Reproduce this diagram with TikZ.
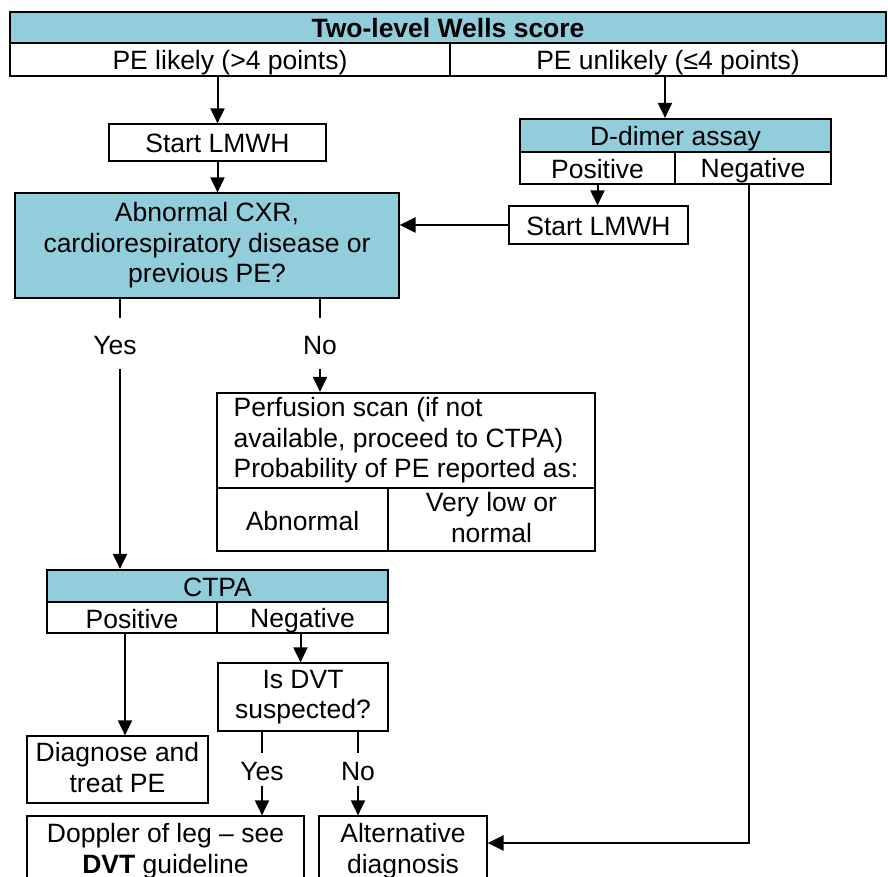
\documentclass[tikz,border=0pt]{standalone}
\usepackage{fontspec}
\setmainfont{Liberation Sans}
\usetikzlibrary{arrows.meta,calc}
\definecolor{aqua}{RGB}{146,205,220}
\begin{document}
\begin{tikzpicture}[x=1pt,y=-1pt,
  every node/.style={font=\fontsize{26.5}{30.5}\selectfont, inner sep=0pt, align=center,
    execute at begin node={\rule[-4pt]{0pt}{29pt}},
    execute at end node={\rule[-4pt]{0pt}{29pt}}},
  tbox/.style={draw, line width=2.2pt, rectangle},
  sbox/.style={draw, line width=1.2pt, rectangle},
  hdr/.style={fill=aqua},
  arr/.style={line width=2pt, -{Triangle[length=15pt,width=14pt]}},
  harr/.style={line width=2.6pt, -{Triangle[length=16pt,width=15pt]}},
  stub/.style={line width=2pt}]
\useasboundingbox (0,0) rectangle (888,877);

% top table
\node[tbox,hdr,minimum width=876pt,minimum height=31pt] (title) at (448,27.5) {\textbf{Two-level Wells score}};
\node[tbox,minimum width=440pt,minimum height=33pt] (likely) at (230,59.5) {PE likely (>4 points)};
\node[tbox,minimum width=436pt,minimum height=33pt] (unlikely) at (668,59.5) {PE unlikely (≤4 points)};

% left branch
\node[sbox,minimum width=217pt,minimum height=37pt] (lmwh1) at (217.5,142.5) {Start LMWH};
\node[sbox,hdr,minimum width=384pt,minimum height=105pt] (cxr) at (207,245.5) {Abnormal CXR,\\cardiorespiratory disease or\\previous PE?};

% D-dimer table
\node[tbox,hdr,minimum width=311pt,minimum height=33pt] (ddimer) at (675.5,135.5) {D-dimer assay};
\node[tbox,minimum width=155pt,minimum height=32pt] (dpos) at (597.5,168) {Positive};
\node[tbox,minimum width=156pt,minimum height=32pt] (dneg) at (753,168) {Negative};
\node[sbox,minimum width=179pt,minimum height=38pt] (lmwh2) at (598.5,225) {Start LMWH};

% yes / no labels
\node[minimum height=51pt] (yes1) at (115,343.5) {Yes};
\node[minimum height=51pt] (no1) at (320,343.5) {No};

% perfusion table
\node[tbox,minimum width=378pt,minimum height=95pt,align=left] (perf) at (406,440.5) {Perfusion scan (if not\\available, proceed to CTPA)\\Probability of PE reported as:};
\node[tbox,minimum width=171pt,minimum height=63pt] (pabn) at (302.5,519.5) {Abnormal};
\node[tbox,minimum width=207pt,minimum height=63pt] (pvl) at (491.5,519.5) {Very low or\\normal};

% CTPA table
\node[tbox,hdr,minimum width=341pt,minimum height=32pt] (ctpa) at (217.5,586) {CTPA};
\node[tbox,minimum width=170pt,minimum height=31pt] (cpos) at (132,617.5) {Positive};
\node[tbox,minimum width=171pt,minimum height=31pt] (cneg) at (302.5,617.5) {Negative};

% lower boxes
\node[sbox,minimum width=181pt,minimum height=67pt] (diag) at (117.5,769.5) {Diagnose and\\treat PE};
\node[sbox,minimum width=170pt,minimum height=68pt] (dvt) at (303,697) {Is DVT\\suspected?};
\node[minimum height=33pt] (yes2) at (262,769.5) {Yes};
\node[minimum height=33pt] (no2) at (358,769.5) {No};
\node[sbox,minimum width=277pt,minimum height=70pt] (doppler) at (165.5,851) {Doppler of leg – see\\\textbf{DVT} guideline};
\node[sbox,minimum width=168pt,minimum height=70pt] (alt) at (403,851) {Alternative\\diagnosis};

% connectors
\draw[arr] (lmwh1.north |- likely.south) -- (lmwh1.north);
\draw[arr] (lmwh1.south) -- (lmwh1.south |- cxr.north);
\draw[arr] ($(unlikely.south)+(-3,0)$) -- ($(unlikely.south |- ddimer.north)+(-3,0)$);
\draw[arr] (dpos.south) -- (dpos.south |- lmwh2.north);
\draw[harr] (lmwh2.west) -- (lmwh2.west -| cxr.east);

\coordinate (yx) at ($(yes1.north)+(5,0)$);
\draw[stub] (yx |- cxr.south) -- (yx);
\draw[arr] (yx |- yes1.south) -- (yx |- ctpa.north);
\draw[stub] (no1.north |- cxr.south) -- (no1.north);
\draw[arr] (no1.south) -- (no1.south |- perf.north);

\coordinate (px) at ($(cpos.south)+(-7,0)$);
\draw[arr] (px) -- (px |- diag.north);
\draw[arr] ($(cneg.south)+(-2,0)$) -- ($(cneg.south |- dvt.north)+(-2,0)$);

\draw[stub] (yes2.north |- dvt.south) -- (yes2.north);
\draw[arr] (yes2.south) -- (yes2.south |- doppler.north);
\draw[stub] (no2.north |- dvt.south) -- (no2.north);
\draw[arr] (no2.south) -- (no2.south |- alt.north);

\coordinate (bend) at (749,843);
\draw[stub] (bend |- dneg.south) -- ($(bend)+(0,1.3)$);
\draw[harr] (bend) -- (bend -| alt.east);
\end{tikzpicture}
\end{document}
